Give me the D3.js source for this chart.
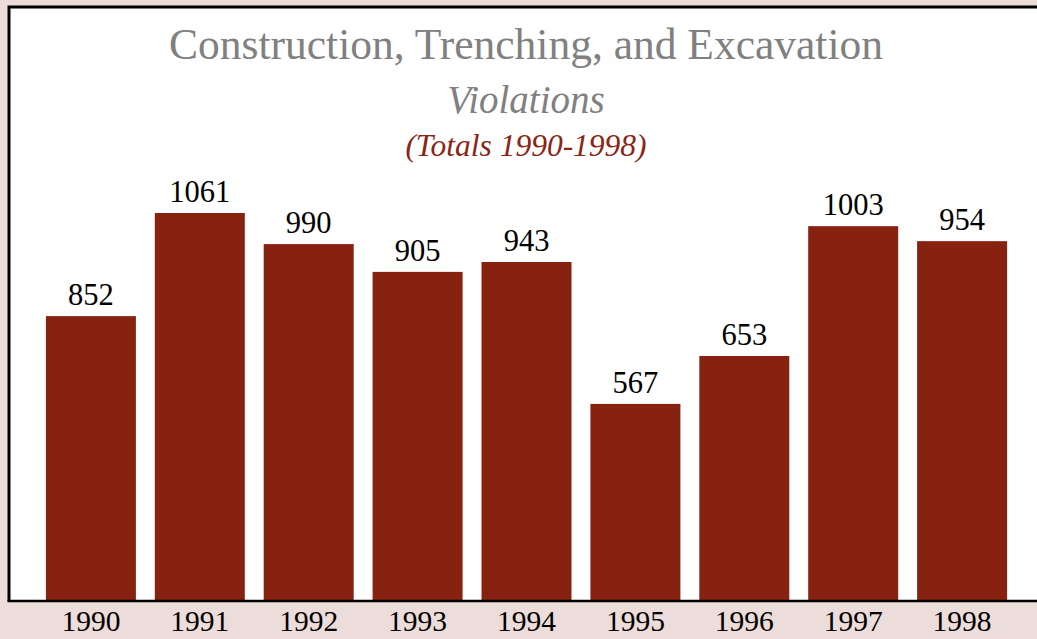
<!DOCTYPE html>
<html>
<head>
<meta charset="utf-8">
<script src="https://cdn.jsdelivr.net/npm/d3@7"></script>
<style>
  body { margin: 0; background: #ecdcda; }
</style>
</head>
<body>
<div class="canvas"></div>
<script>
// data
const years = ["1990", "1991", "1992", "1993", "1994", "1995", "1996", "1997", "1998"];
// totals printed above each bar
const totals = [852, 1061, 990, 905, 943, 567, 653, 1003, 954];
// bar lengths as drawn in the source picture (they don't follow the printed totals exactly)
const barLengths = [779, 1061, 976, 900, 927, 539, 670, 1025, 984];

const width = 1037, height = 639;
const plot = {left: 9, top: 7, bottom: 601};

const svg = d3.select('.canvas')
    .append('svg')
        .attr('width', width)
        .attr('height', height)
        .style('display', 'block');

svg.append('rect')
    .attr('width', width)
    .attr('height', height)
    .attr('fill', '#ecdcda');

// white panel
svg.append('rect')
    .attr('x', plot.left)
    .attr('y', plot.top)
    .attr('width', width - plot.left + 5)
    .attr('height', plot.bottom - plot.top)
    .attr('fill', 'white');

// top + left border
svg.append('path')
    .attr('d', `M${width + 5},${plot.top} H${plot.left} V${plot.bottom}`)
    .attr('fill', 'none')
    .attr('stroke', 'black')
    .attr('stroke-width', 3);

// title
svg.append('text')
    .attr('x', 526)
    .attr('y', 59)
    .attr('text-anchor', 'middle')
    .style('font-family', "'Liberation Serif', serif")
    .style('font-size', '43.5px')
    .attr('fill', '#808080')
    .text('Construction, Trenching, and Excavation');

svg.append('text')
    .attr('x', 526)
    .attr('y', 113)
    .attr('text-anchor', 'middle')
    .style('font-family', "'Liberation Serif', serif")
    .style('font-style', 'italic')
    .style('font-size', '39px')
    .attr('fill', '#808080')
    .text('Violations');

svg.append('text')
    .attr('x', 526)
    .attr('y', 156)
    .attr('text-anchor', 'middle')
    .style('font-family', "'Liberation Serif', serif")
    .style('font-style', 'italic')
    .style('font-size', '31.5px')
    .attr('fill', '#8b2515')
    .text('(Totals 1990-1998)');

// scales
const x = d3.scaleBand()
    .domain(years)
    .range([27, 1026])
    .padding(0.1736);

const y = d3.scaleLinear()
    .domain([0, 1061])
    .range([plot.bottom, 213]);

const data = years.map((yr, i) => ({year: yr, total: totals[i], len: barLengths[i]}));

// bars
svg.selectAll('.bar')
    .data(data)
    .enter()
    .append('rect')
        .attr('class', 'bar')
        .attr('x', d => x(d.year))
        .attr('y', d => y(d.len))
        .attr('width', x.bandwidth())
        .attr('height', d => y(0) - y(d.len))
        .attr('fill', '#86220f');

// value labels
svg.selectAll('.val')
    .data(data)
    .enter()
    .append('text')
        .attr('class', 'val')
        .attr('x', d => x(d.year) + x.bandwidth() / 2)
        .attr('y', d => y(d.len) - 11)
        .attr('text-anchor', 'middle')
        .style('font-family', "'Liberation Serif', serif")
        .style('font-size', '30.5px')
        .attr('fill', 'black')
        .text(d => d.total);

// x axis
const xAxis = svg.append('g')
    .attr('transform', `translate(0, ${plot.bottom})`)
    .call(d3.axisBottom(x).tickSize(0).tickPadding(9.5));
xAxis.select('.domain').remove();
xAxis.selectAll('text')
    .style('font-family', "'Liberation Serif', serif")
    .style('font-size', '29.5px')
    .attr('fill', 'black');

svg.append('line')
    .attr('x1', plot.left - 1.5)
    .attr('x2', width)
    .attr('y1', plot.bottom)
    .attr('y2', plot.bottom)
    .attr('stroke', 'black')
    .attr('stroke-width', 2.5);
</script>
</body>
</html>
